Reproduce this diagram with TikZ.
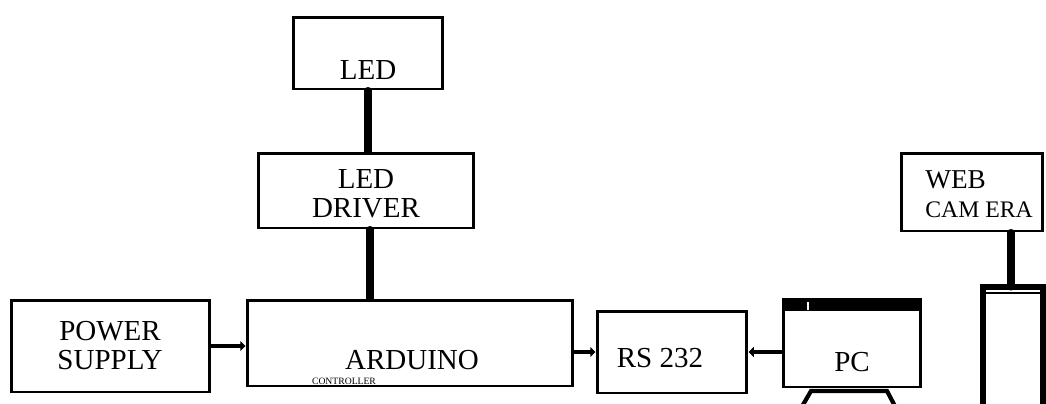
\documentclass[tikz,border=0pt]{standalone}
\usepackage{fontspec}
\setmainfont{Liberation Serif}
\usetikzlibrary{arrows.meta,calc}

\tikzset{
  blk/.style={draw=black,line width=1.7pt,inner sep=0pt},
  lbl/.style={font=\fontsize{16.5}{16.5}\selectfont,align=center,inner sep=0pt},
  bus/.style={line width=4pt,line cap=round},
  sig/.style={line width=2.8pt,line cap=round,-{Triangle[length=3pt,width=5.5pt]}}
}

\begin{document}
\begin{tikzpicture}[x=0.02cm,y=-0.02cm]
  \useasboundingbox (0,0) rectangle (1046,403);
  \clip (0,0) rectangle (1046,403);

  % blocks
  \node[blk,minimum width=3cm,minimum height=1.44cm] (led) at (368,53) {};
  \node[blk,minimum width=4.32cm,minimum height=1.5cm] (drv) at (366,190.5) {};
  \node[blk,minimum width=6.52cm,minimum height=1.72cm] (ard) at (410,343) {};
  \node[blk,minimum width=3.98cm,minimum height=1.84cm] (psu) at (110.5,346) {};
  \node[blk,minimum width=3cm,minimum height=1.64cm] (rs) at (672,352) {};
  \node[blk,minimum width=2.76cm,minimum height=1.76cm] (pc) at (852,343) {};
  \node[blk,minimum width=2.84cm,minimum height=1.56cm] (cam) at (972,192) {};

  % texts
  \node[lbl] at (368,70) {LED};
  \node[lbl] at (366,194) {LED\\DRIVER};
  \node[lbl] at (412,360) {ARDUINO};
  \node[font=\fontsize{5.5}{6}\selectfont,inner sep=0pt] at (344,381) {CONTROLLER};
  \node[lbl] at (110,346) {POWER\\SUPPLY};
  \node[lbl] at (660,358) {RS 232};
  \node[lbl] at (852,362) {PC};
  \node[lbl,font=\fontsize{15.5}{16}\selectfont,anchor=west] at (925,180) {WEB};
  \node[lbl,font=\fontsize{13.5}{16}\selectfont,anchor=west] at (925,210) {CAM ERA};

  % pc screen bar and stand
  \fill (pc.north west) rectangle ($(pc.north east)+(0,13)$);
  \draw[white,line width=1pt] (808,302) -- (808,310);
  \draw[line width=2.4pt] (800,410) -- (811,391) -- (887,391) -- (897,410);

  % camera tower
  \coordinate (twr) at (1011,287);
  \draw[line width=3pt] (983,410) -- (983,287) -- (1043,287) -- (1043,410);
  \draw[line width=1.2pt] (983,293) -- (1043,293);

  % links
  \draw[bus] (led.south) -- (led.south |- drv.north);
  \draw[bus] (drv.south -| 370,0) -- (ard.north -| 370,0);
  \draw[bus] (twr |- cam.south) -- (twr);
  \draw[sig] (psu.east) -- (ard.west |- psu.east);
  \draw[sig] (ard.east |- rs.west) -- (rs.west);
  \draw[sig] (pc.west |- rs.east) -- (rs.east);
\end{tikzpicture}
\end{document}
